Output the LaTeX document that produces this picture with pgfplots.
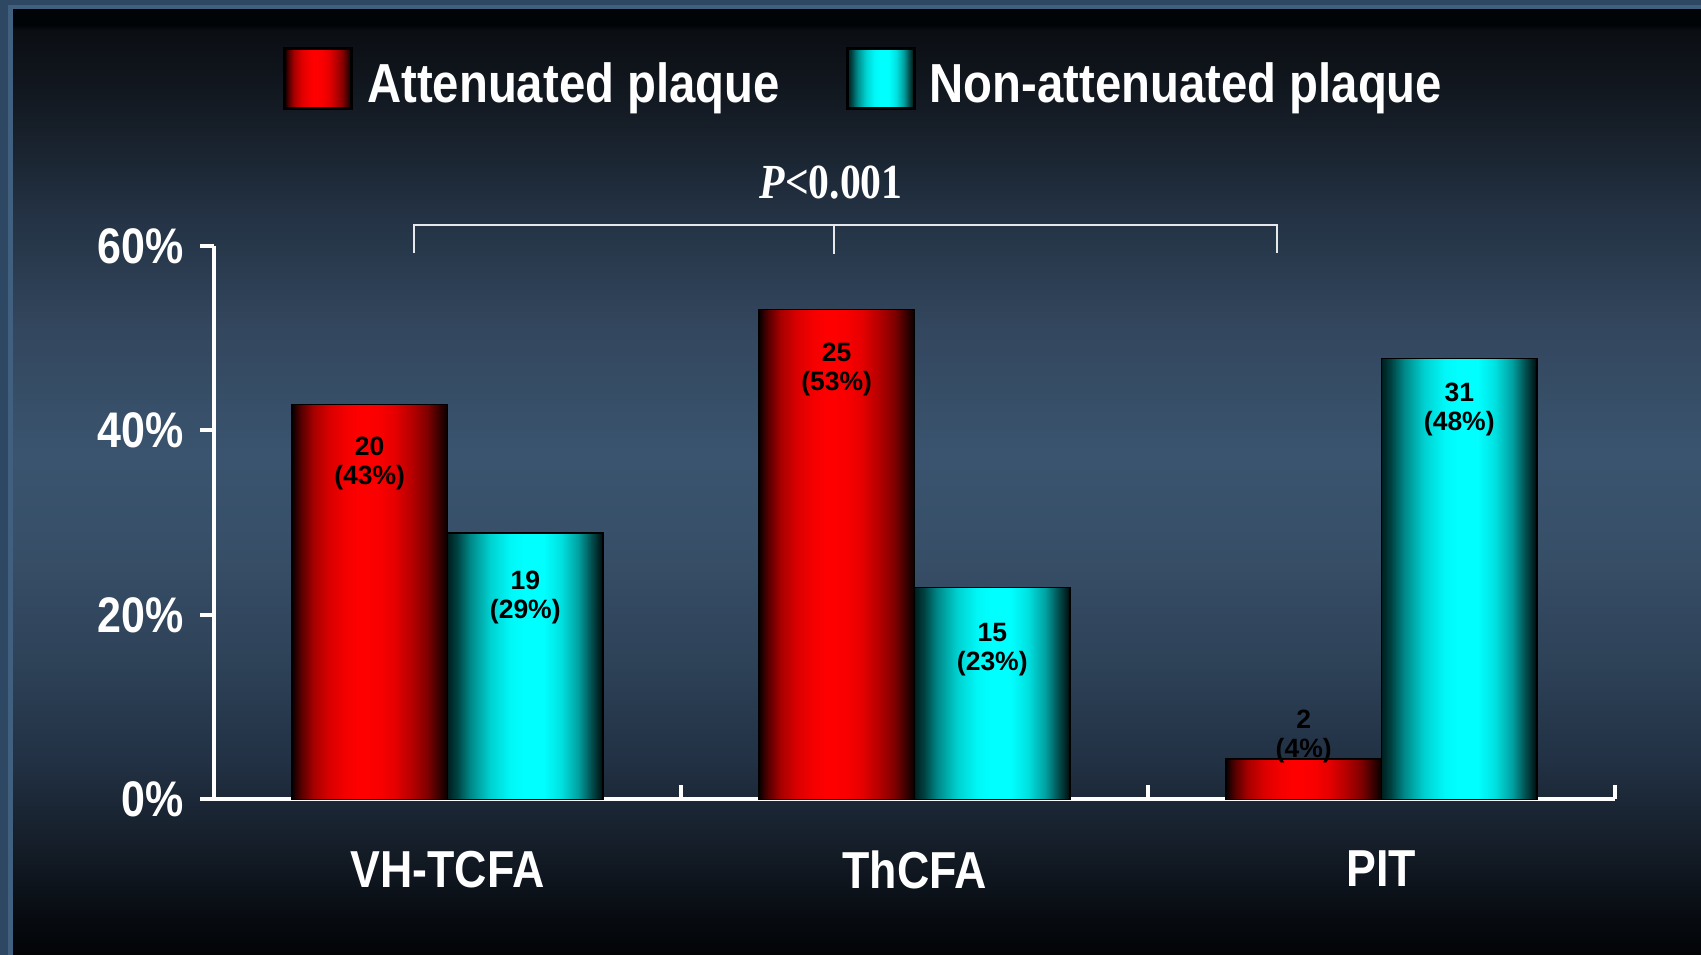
\documentclass[border=0pt]{standalone}
\usepackage{pgfplots}
\pgfplotsset{compat=1.18}
\usepackage{fontspec}
\setmainfont{Liberation Sans}[FakeStretch=0.86]
\newfontfamily\lblfont{Liberation Sans}
\newfontfamily\pfont{Liberation Serif}[FakeStretch=0.85]

\definecolor{bordc}{HTML}{2E4762}
\definecolor{bordl}{HTML}{41607F}
\definecolor{brk}{HTML}{E6E8EC}

\pgfdeclareverticalshading{bgshade}{100bp}{%
 rgb(0bp)=(0.008,0.016,0.024); rgb(25bp)=(0.008,0.016,0.024);
 rgb(26.85bp)=(0.027,0.043,0.063); rgb(30.55bp)=(0.078,0.110,0.153);
 rgb(35.3bp)=(0.133,0.192,0.267); rgb(40.6bp)=(0.180,0.259,0.345);
 rgb(46bp)=(0.216,0.306,0.404); rgb(51.45bp)=(0.227,0.329,0.435);
 rgb(58.05bp)=(0.2,0.278,0.369); rgb(63.9bp)=(0.141,0.2,0.271);
 rgb(69.7bp)=(0.078,0.106,0.141); rgb(73.9bp)=(0.043,0.055,0.075);
 rgb(74.2bp)=(0,0.016,0.027); rgb(75bp)=(0,0.016,0.027); rgb(100bp)=(0,0.016,0.027)}

\pgfdeclarehorizontalshading{redbar}{100bp}{%
 rgb(0bp)=(0.03,0,0); rgb(25bp)=(0.03,0,0); rgb(27.8bp)=(0.33,0,0);
 rgb(32bp)=(0.66,0,0); rgb(37.2bp)=(0.86,0,0); rgb(42.5bp)=(0.96,0,0);
 rgb(47bp)=(1,0,0); rgb(52.85bp)=(0.98,0,0); rgb(58bp)=(0.9,0,0);
 rgb(63.3bp)=(0.72,0,0); rgb(68.5bp)=(0.5,0,0); rgb(72.7bp)=(0.19,0,0);
 rgb(75bp)=(0.03,0,0); rgb(100bp)=(0.03,0,0)}

\pgfdeclarehorizontalshading{cyanbar}{100bp}{%
 rgb(0bp)=(0,0.12,0.12); rgb(25bp)=(0,0.12,0.12); rgb(27.9bp)=(0,0.25,0.25);
 rgb(32.25bp)=(0,0.53,0.53); rgb(38.75bp)=(0,0.82,0.82); rgb(45.25bp)=(0,0.97,0.97);
 rgb(49.5bp)=(0,1,1); rgb(56bp)=(0,1,1); rgb(61.5bp)=(0,0.88,0.88);
 rgb(67bp)=(0,0.63,0.63); rgb(71.2bp)=(0,0.31,0.31); rgb(75bp)=(0,0.04,0.04);
 rgb(100bp)=(0,0.04,0.04)}

\begin{document}
\begin{tikzpicture}[x=1pt,y=1pt]
\useasboundingbox (0,0) rectangle (1701,955);
\fill[bordc] (0,0) rectangle (1701,955);
\fill[bordl] (8,0) rectangle (13,950);
\fill[bordl] (8,945) rectangle (1701,950);
\shade[shading=bgshade] (13,0) rectangle (1701,945);
\begin{axis}[
  at={(214pt,155.5pt)}, anchor=south west,
  scale only axis, width=1401pt, height=553.5pt,
  xmin=-0.5, xmax=2.5, ymin=0, ymax=60,
  axis x line*=bottom, axis y line*=left,
  axis line style={white, line width=4pt},
  xtick={0,1,2}, xticklabels={VH-TCFA,ThCFA,PIT},
  ytick={0,20,40,60}, yticklabels={0\%,20\%,40\%,60\%},
  major x tick style={draw=none},
  major y tick style={white, line width=4pt},
  tick align=outside, major tick length=14pt,
  xticklabel style={font=\bfseries\fontsize{52}{60}\selectfont, text=white, anchor=north, inner sep=0pt, yshift=-37pt},
  yticklabel style={font=\bfseries\fontsize{50}{60}\selectfont, text=white, anchor=east, inner sep=0pt, xshift=-16pt},
  clip=false,
  every node near coord/.append style={font=\lblfont\bfseries\fontsize{26.5}{29}\selectfont, text=black, align=center, anchor=north, inner sep=0pt},
  legend columns=2,
  legend style={at={(axis description cs:0.04925,1.3719)}, anchor=north west, draw=none, fill=none,
    text=white, font=\bfseries\fontsize{55}{60}\selectfont, inner sep=0pt, nodes={inner sep=0pt},
    /tikz/every odd column/.append style={column sep=14pt},
    /tikz/every even column/.append style={column sep=66pt}},
]
\addplot[ybar, bar width=0.333, bar shift=-0.1665, draw=black, line width=1.5pt, shade, shading=redbar,
  nodes near coords={20\\(43\%)}, every node near coord/.append style={yshift=-32pt, xshift=-77.8pt},
  legend image code/.code={\path (0pt,42.6pt); \shade[shading=redbar, draw=black, line width=3pt] (0pt,-25pt) rectangle (67pt,35pt);}]
  coordinates {(0,42.8)};
\addplot[ybar, bar width=0.333, bar shift=0.1665, draw=black, line width=1.5pt, shade, shading=cyanbar,
  nodes near coords={19\\(29\%)}, every node near coord/.append style={yshift=-37pt, xshift=77.8pt},
  legend image code/.code={\path (0pt,42.6pt); \shade[shading=cyanbar, draw=black, line width=3pt] (0pt,-25pt) rectangle (67pt,35pt);}]
  coordinates {(0,28.9)};
\addplot[forget plot, ybar, bar width=0.333, bar shift=-0.1665, draw=black, line width=1.5pt, shade, shading=redbar,
  nodes near coords={25\\(53\%)}, every node near coord/.append style={yshift=-33pt, xshift=-77.8pt}]
  coordinates {(1,53.1)};
\addplot[forget plot, ybar, bar width=0.333, bar shift=0.1665, draw=black, line width=1.5pt, shade, shading=cyanbar,
  nodes near coords={15\\(23\%)}, every node near coord/.append style={yshift=-35pt, xshift=77.8pt}]
  coordinates {(1,23.0)};
\addplot[forget plot, ybar, bar width=0.333, bar shift=-0.1665, draw=black, line width=1.5pt, shade, shading=redbar,
  nodes near coords={2\\(4\%)}, every node near coord/.append style={yshift=50pt, xshift=-77.8pt}]
  coordinates {(2,4.4)};
\addplot[forget plot, ybar, bar width=0.333, bar shift=0.1665, draw=black, line width=1.5pt, shade, shading=cyanbar,
  nodes near coords={31\\(48\%)}, every node near coord/.append style={yshift=-24pt, xshift=77.8pt}]
  coordinates {(2,47.8)};
\legend{Attenuated plaque,Non-attenuated plaque}
\draw[white, line width=4pt] (axis cs:0.5,0) -- ++(0pt,14pt);
\draw[white, line width=4pt] (axis cs:1.5,0) -- ++(0pt,14pt);
\draw[white, line width=4pt] (axis cs:2.5,0) -- ++(0pt,14pt);
\draw[brk, line width=2.5pt] (axis cs:-0.072,59.24) -- (axis cs:-0.072,62.3) -- (axis cs:1.776,62.3) -- (axis cs:1.776,59.24);
\draw[brk, line width=2.5pt] (axis cs:0.828,62.3) -- (axis cs:0.828,59.1);
\node[font=\pfont\bfseries\fontsize{49}{55}\selectfont, text=white, anchor=base, inner sep=0pt] at (axis cs:0.821,65.2) {\textit{P}<0.001};
\end{axis}
\end{tikzpicture}
\end{document}
